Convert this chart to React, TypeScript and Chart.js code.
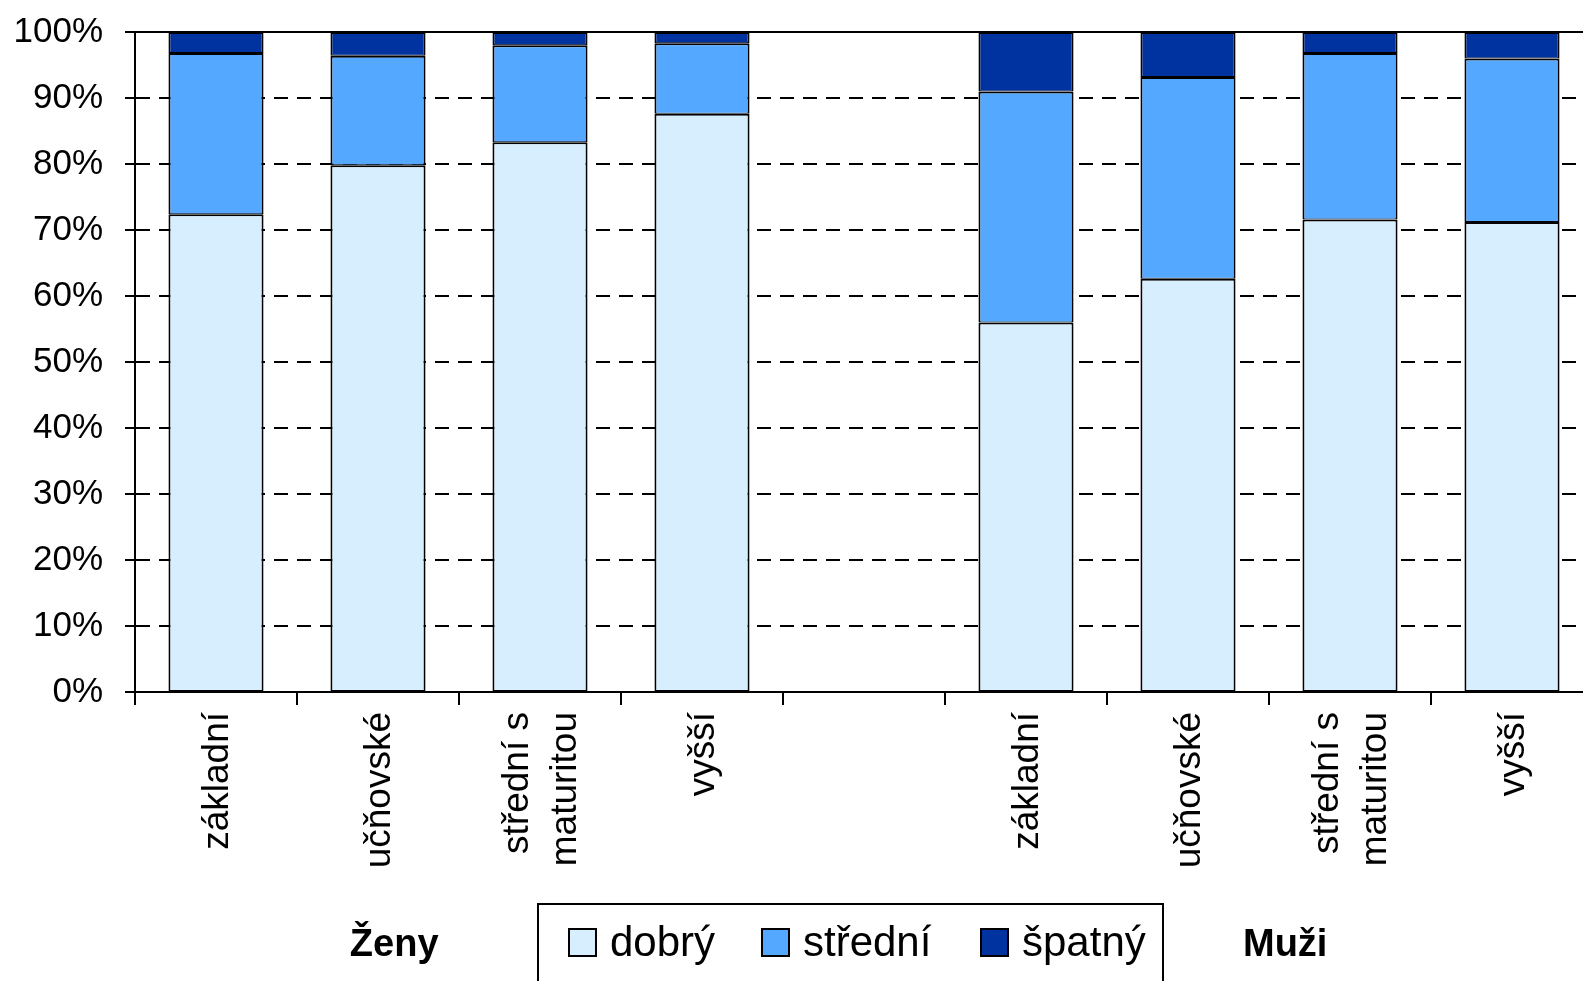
import React, { useEffect, useRef } from 'react';
import { Chart, registerables } from 'chart.js';

Chart.register(...registerables);

const categories: (string | string[])[] = [
  'základní',
  'učňovské',
  ['střední s', 'maturitou'],
  'vyšší',
  '',
  'základní',
  'učňovské',
  ['střední s', 'maturitou'],
  'vyšší',
];
const seriesNames = ['dobrý', 'střední', 'špatný'];
const dobry = [72.4, 79.8, 83.3, 87.6, null, 56.0, 62.6, 71.6, 71.2];
const stredni = [24.4, 16.6, 14.7, 10.7, null, 35.0, 30.6, 25.2, 24.8];
const spatny = [3.2, 3.6, 2.0, 1.7, null, 9.0, 6.8, 3.2, 4.0];
const seriesColors = ['#D7EEFF', '#55A8FF', '#0033A0'];
const groupLabels = ['Ženy', 'Muži'];
const groupAnchors = [1.1, 6.6]; // category position of group label centres

const FONT = "'Liberation Sans', Arial, sans-serif";

const overlayPlugin = {
  id: 'overlay',
  afterDraw(chart: any) {
    const { ctx, chartArea } = chart;
    const xs = chart.scales.x;
    const n = categories.length;
    const cw = (chartArea.right - chartArea.left) / n;
    ctx.save();
    // top border solid
    ctx.strokeStyle = '#000';
    ctx.lineWidth = 2;
    ctx.beginPath();
    ctx.moveTo(chartArea.left - 10, chartArea.top);
    ctx.lineTo(chartArea.right, chartArea.top);
    ctx.stroke();

    // x labels rotated
    ctx.fillStyle = '#000';
    ctx.font = `37px ${FONT}`;
    ctx.textAlign = 'right';
    ctx.textBaseline = 'middle';
    const lh = 48;
    categories.forEach((lab, i) => {
      const lines = Array.isArray(lab) ? lab : [lab];
      if (!lines[0]) return;
      const cx = xs.getPixelForValue(i);
      lines.forEach((ln, j) => {
        const x = cx + (j - (lines.length - 1) / 2) * lh + 2;
        ctx.save();
        ctx.translate(x, chartArea.bottom + 20);
        ctx.rotate(-Math.PI / 2);
        ctx.fillText(ln, 0, 0);
        ctx.restore();
      });
    });

    // group labels
    ctx.font = `bold 38px ${FONT}`;
    ctx.textAlign = 'center';
    ctx.textBaseline = 'alphabetic';
    groupLabels.forEach((g, i) => {
      const x = chartArea.left + (groupAnchors[i] + 0.5) * cw;
      ctx.fillText(g, x, 956);
    });

    // legend
    const boxL = 538, boxT = 904, boxR = 1163;
    ctx.lineWidth = 2;
    ctx.strokeStyle = '#000';
    ctx.strokeRect(boxL, boxT, boxR - boxL, 120);
    ctx.font = `42px ${FONT}`;
    ctx.textAlign = 'left';
    const sq = 27;
    const itemX = [569, 762, 981];
    chart.data.datasets.forEach((ds: any, i: number) => {
      const x = itemX[i];
      ctx.fillStyle = ds.backgroundColor;
      ctx.fillRect(x, 929, sq, sq);
      ctx.lineWidth = 2;
      ctx.strokeRect(x, 929, sq, sq);
      ctx.fillStyle = '#000';
      ctx.fillText(ds.label, x + sq + 14, 956);
    });
    ctx.restore();
  },
};

export default function App() {
  const ref = useRef<HTMLCanvasElement | null>(null);
  useEffect(() => {
    if (!ref.current) return;
    const series = [dobry, stredni, spatny];
    const chart = new Chart(ref.current, {
      type: 'bar',
      data: {
        labels: categories.map((c) => (Array.isArray(c) ? c.join(' ') : c)),
        datasets: series.map((d, i) => ({
          label: seriesNames[i],
          data: d,
          backgroundColor: seriesColors[i],
          borderColor: '#000',
          borderWidth: { top: 2, bottom: 1, left: 2, right: 2 },
          borderSkipped: false,
          inflateAmount: 0,
          categoryPercentage: 1,
          barPercentage: 0.587,
        })),
      },
      options: {
        responsive: false,
        animation: false,
        devicePixelRatio: 1,
        layout: { padding: { left: 0, top: 32, right: 7, bottom: 109 } },
        plugins: { legend: { display: false }, tooltip: { enabled: false } },
        scales: {
          x: {
            stacked: true,
            grid: {
              display: true,
              offset: true,
              drawOnChartArea: false,
              drawTicks: true,
              tickLength: 13,
              tickWidth: 2,
              tickColor: '#000',
              color: '#000',
              lineWidth: 2,
            },
            border: { display: true, color: '#000', width: 2 },
            ticks: { display: false, autoSkip: false },
            afterFit: (s: any) => {
              s.height = 180;
            },
          },
          y: {
            stacked: true,
            min: 0,
            max: 100,
            grid: {
              color: (c: any) =>
                c.tick && (c.tick.value === 0 || c.tick.value === 100) ? 'rgba(0,0,0,0)' : '#000',
              lineWidth: 2,
              drawTicks: true,
              tickLength: 10,
              tickWidth: 2,
              tickColor: '#000',
            },
            border: { display: true, color: '#000', width: 2, dash: [14, 9] },
            ticks: {
              stepSize: 10,
              color: '#000',
              padding: 22,
              font: { family: FONT, size: 35 },
              callback: (v: any) => `${v}%`,
            },
            afterFit: (s: any) => {
              s.width = 135;
              s.paddingTop = 0;
              s.paddingBottom = 0;
            },
          },
        },
      },
      plugins: [overlayPlugin],
    });
    return () => chart.destroy();
  }, []);
  return (
    <div
      style={{
        position: 'fixed',
        left: 0,
        top: 0,
        width: 1583,
        height: 981,
        overflow: 'hidden',
        background: '#fff',
      }}
    >
      <canvas ref={ref} width={1600} height={981} style={{ display: 'block' }} />
    </div>
  );
}
